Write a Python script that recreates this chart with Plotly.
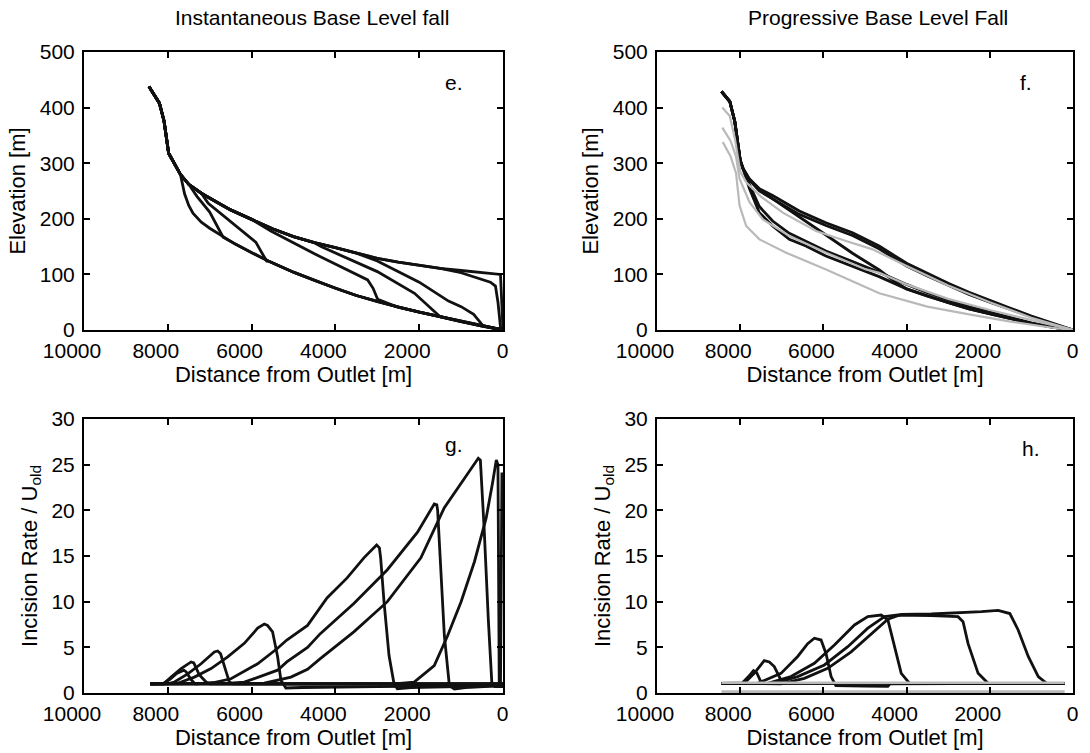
import plotly.graph_objects as go

# ---------------- data : panel e (instantaneous fall, elevation) ----------------
E_TRUNK_X = [8450, 8300, 8200, 8090, 8030, 7980, 7870, 7700]
E_TRUNK_Y = [438, 421, 408, 376, 343, 318, 303, 280]
E_UPPER_X = [7500, 7200, 6900, 6500, 6000, 5500, 5000, 4500, 4000, 3500, 3000, 2500, 2000, 1500, 1000, 500, 60]
E_UPPER_Y = [262, 246, 233, 216, 199, 182, 168, 157, 148, 138, 129, 122, 116, 111, 107, 103, 100]
E_LOWER_X = [7600, 7500, 7400, 7200, 7000, 6700, 6400, 6000, 5600, 5000, 4500, 4000, 3500, 3000, 2500, 2000, 1500, 1000, 500, 0]
E_LOWER_Y = [245, 224, 210, 194, 183, 169, 155, 139, 124, 104, 89, 75, 62, 51, 41, 32, 24, 15, 7, 0]
E_TOP_END_X = [0]
E_TOP_END_Y = [0]
# knick segments between the old (upper) and the new (lower) profile
E_K1_X = [1000, 600, 300, 180, 120, 60, 0]
E_K1_Y = [103, 94, 86, 79, 50, 5, 0]
E_K2_X = [3000, 2000, 1300, 1000, 700, 480]
E_K2_Y = [124, 86, 52, 42, 28, 8]
E_K3_X = [4343, 3000, 2112, 1800, 1520]
E_K3_Y = [150, 105, 66, 45, 26]
E_K4_X = [5540, 4500, 3230, 3100, 2990]
E_K4_Y = [178, 137, 90, 75, 55]
E_K5_X = [7035, 6370, 5900, 5750, 5640]
E_K5_Y = [228, 186, 158, 138, 124]
E_K6_X = [7300, 7000, 6850, 6680]
E_K6_Y = [240, 212, 190, 167]
E_DEPART = [1500, 3500, 4500, 6000, 7200, 7500]
E_JOIN = [0, 0, 1500, 2980, 5620, 6670]

# ---------------- data : panel f (progressive fall, elevation) ----------------
F_TRUNK_X = [8450, 8250, 8130, 8050, 8000, 7930]
F_TRUNK_Y = [429, 411, 375, 332, 305, 290]
F_UPPER_X = [7780, 7540, 7220, 6580, 5940, 5300, 4660, 4000, 3500, 3000, 2500, 2000, 1500, 1000, 500, 0]
F_UPPER_Y = [272, 254, 242, 214, 193, 175, 151, 120, 102, 84, 68, 53, 39, 25, 12, 0]
F_UPPER2_Y = [270, 250, 236, 208, 188, 170, 146, 115, 97, 80, 64, 50, 37, 24, 11, 0]
F_LOWER_X = [7780, 7540, 7220, 6820, 6420, 5940, 5300, 4660, 4000, 3500, 3000, 2500, 2000, 1500, 1000, 500, 0]
F_LOWER_Y = [255, 211, 187, 163, 151, 133, 115, 96, 74, 61, 49, 38, 29, 20, 12, 5, 0]
F_LOWER2_Y = [262, 222, 196, 174, 160, 142, 123, 104, 82, 67, 54, 42, 32, 22, 13, 5, 0]
F_DIAG_X = [7780, 7460, 6800, 6000, 5300, 4656, 4300]
F_DIAG_Y = [270, 248, 215, 174, 138, 108, 88]
F_G1_X = [8430, 8250, 8130, 8050, 8000, 7850, 7500, 6976, 6176, 5456, 4816, 4000, 3000, 2000, 1000, 0]
F_G1_Y = [400, 385, 345, 305, 285, 265, 240, 211, 178, 160, 145, 115, 80, 50, 22, 0]
F_G2_X = [8430, 8230, 8100, 8050, 8016, 7776, 7456, 6816, 5936, 4976, 4656, 4000, 3000, 2000, 1000, 0]
F_G2_Y = [364, 340, 312, 285, 272, 230, 199, 169, 139, 109, 103, 82, 56, 36, 18, 0]
F_G3_X = [8420, 8230, 8100, 8050, 8016, 7856, 7536, 6896, 5936, 4656, 3500, 2500, 1500, 500, 0]
F_G3_Y = [338, 312, 282, 250, 224, 187, 163, 139, 109, 66, 42, 28, 15, 4, 0]

# ---------------- data : panel g (instantaneous fall, incision rate) ----------------
G_A_X = [8420, 8100, 7921, 7683, 7444, 7380, 7250, 7087, 7000, 0]
G_A_Y = [1.0, 1.0, 1.74, 2.67, 3.4, 3.3, 2.0, 1.2, 1.0, 1.0]
G_B_X = [8420, 8120, 7950, 7800, 7620, 7560, 7450, 7350, 0]
G_B_Y = [1.0, 1.0, 1.5, 2.1, 2.5, 2.3, 1.5, 1.0, 1.0]
G_C_X = [8420, 8000, 7841, 7524, 7206, 6889, 6809, 6740, 6620, 6531, 6450, 0]
G_C_Y = [1.0, 1.0, 1.2, 2.1, 3.2, 4.5, 4.6, 4.3, 2.5, 1.2, 1.0, 1.0]
G_D_X = [8420, 7900, 7762, 7365, 6968, 6571, 6174, 5856, 5697, 5620, 5500, 5380, 5300, 5182, 4800, 3000, 0]
G_D_Y = [1.0, 1.0, 1.07, 1.74, 2.67, 3.96, 5.44, 7.1, 7.55, 7.4, 6.7, 4.0, 1.4, 0.55, 0.6, 0.7, 0.8]
G_E_X = [8420, 7300, 6900, 6492, 5856, 5380, 5160, 4665, 4200, 3720, 3320, 3016, 2950, 2920, 2840, 2720, 2600, 2520, 2200, 0]
G_E_Y = [1.0, 1.0, 1.15, 1.56, 3.2, 4.9, 5.8, 7.4, 10.4, 12.6, 14.8, 16.2, 15.9, 14.8, 10.0, 4.1, 1.0, 0.45, 0.6, 0.8]
G_F_X = [8420, 7000, 6600, 6174, 5380, 5160, 4665, 4360, 4000, 3560, 2760, 2040, 1640, 1580, 1560, 1480, 1400, 1280, 1160, 900, 0]
G_F_Y = [1.0, 1.0, 1.05, 1.19, 2.5, 3.4, 5.0, 6.5, 8.0, 9.8, 13.5, 17.6, 20.7, 20.6, 20.0, 13.7, 6.3, 0.8, 0.44, 0.6, 0.8]
G_G_X = [8420, 6500, 6100, 5697, 5062, 4665, 4360, 4000, 3560, 2760, 1960, 1400, 1000, 590, 540, 450, 350, 265, 200, 0]
G_G_Y = [1.0, 1.0, 1.02, 1.07, 1.74, 2.6, 3.76, 5.1, 6.7, 10.0, 14.8, 20.3, 22.9, 25.7, 25.5, 18.0, 8.0, 1.0, 0.7, 0.7]
G_H_X = [8420, 2600, 2120, 1640, 1320, 1000, 680, 400, 250, 160, 120, 90, 0]
G_H_Y = [1.0, 1.0, 1.2, 3.0, 6.3, 10.0, 14.4, 19.2, 23.0, 25.5, 25.0, 1.0, 1.0]
G_I_X = [8420, 60, 25, 0]
G_I_Y = [1.0, 1.0, 24.0, 24.0]

# ---------------- data : panel h (progressive fall, incision rate) ----------------
H_1_X = [8450, 7950, 7800, 7680, 7600, 7500, 7400, 200]
H_1_Y = [1.06, 1.1, 1.8, 2.45, 2.2, 1.2, 1.06, 1.06]
H_2_X = [8450, 7904, 7663, 7502, 7422, 7300, 7181, 7020, 6940, 200]
H_2_Y = [1.06, 1.06, 2.15, 3.07, 3.54, 3.4, 2.9, 1.4, 1.06, 1.06]
H_3_X = [8450, 7582, 7020, 6618, 6378, 6217, 6056, 5936, 5815, 5700, 5000, 4450, 4400, 200]
H_3_Y = [1.06, 1.06, 2.15, 4.0, 5.4, 6.0, 5.8, 4.3, 1.8, 0.8, 0.75, 0.72, 1.0, 1.06]
H_4_X = [8450, 7341, 6779, 6217, 5735, 5253, 4932, 4610, 4450, 4289, 4129, 3928, 200]
H_4_Y = [1.06, 1.06, 1.8, 3.25, 5.26, 7.45, 8.36, 8.54, 8.0, 5.1, 2.15, 1.06, 1.06]
H_5_X = [8450, 7181, 6618, 5976, 5414, 4932, 4530, 4209, 3406, 2763, 2643, 2522, 2281, 2040, 200]
H_5_Y = [1.06, 1.06, 1.8, 3.07, 5.07, 7.1, 8.36, 8.54, 8.47, 8.36, 7.8, 5.4, 2.15, 1.06, 1.06]
H_6_X = [8450, 7020, 6458, 5896, 5333, 4851, 4450, 4129, 3406, 2201, 1800, 1518, 1318, 1076, 835, 634, 200]
H_6_Y = [1.06, 1.0, 1.6, 2.7, 4.5, 6.5, 8.07, 8.6, 8.65, 8.9, 9.05, 8.7, 6.9, 4.0, 1.8, 1.06, 1.06]
H_G1_X = [8450, 200]
H_G1_Y = [1.12, 1.12]
H_G2_X = [8450, 200]
H_G2_Y = [0.15, 0.15]

X_TICKS = [10000, 8000, 6000, 4000, 2000, 0]
X_TICKTEXT = ["10000", "8000", "6000", "4000", "2000", "\u2007\u20070"]
ELEV_TICKS = [0, 100, 200, 300, 400, 500]
RATE_TICKS = [0, 5, 10, 15, 20, 25, 30]

TITLE_LEFT = "Instantaneous Base Level fall"
TITLE_RIGHT = "Progressive Base Level Fall"
XLABEL = "Distance from Outlet [m]"
YLABEL_TOP = "Elevation [m]"
YLABEL_BOTTOM = "Incision Rate / U<sub>old</sub>"
PANEL_LETTERS = ["e.", "f.", "g.", "h."]
LETTER_X = [1180, 1130, 1180, 1000]
LETTER_Y = [446, 446, 27.2, 26.8]

FONT = "Liberation Sans, Arial, Helvetica, sans-serif"
BLACK = "#111111"
GREY = "#b9b9b9"

fig = go.Figure()


def add(xs, ys, xa, ya, color=BLACK, width=2.8):
    fig.add_trace(go.Scatter(x=xs, y=ys, xaxis=xa, yaxis=ya, mode="lines",
                             line=dict(color=color, width=width),
                             showlegend=False, hoverinfo="skip"))


def pick(xs, ys, cond):
    px, py = [], []
    for a, b in zip(xs, ys):
        if cond(a):
            px.append(a)
            py.append(b)
    return px, py


# ---- panel e ----
ux, uy = E_UPPER_X, E_UPPER_Y
add(E_TRUNK_X + ux + E_TOP_END_X, E_TRUNK_Y + uy + E_TOP_END_Y, "x", "y")
knicks = [(E_K1_X, E_K1_Y), (E_K2_X, E_K2_Y), (E_K3_X, E_K3_Y),
          (E_K4_X, E_K4_Y), (E_K5_X, E_K5_Y), (E_K6_X, E_K6_Y)]
for (kx, ky), dep, jn in zip(knicks, E_DEPART, E_JOIN):
    a_x, a_y = pick(ux, uy, lambda v, d=dep: v >= d)
    b_x, b_y = pick(E_LOWER_X, E_LOWER_Y, lambda v, j=jn, k=kx[-1]: v < k and (v <= j))
    add(E_TRUNK_X + a_x + kx + b_x, E_TRUNK_Y + a_y + ky + b_y, "x", "y")
add(E_TRUNK_X + E_LOWER_X, E_TRUNK_Y + E_LOWER_Y, "x", "y")

# ---- panel f ----
add(F_TRUNK_X + F_UPPER_X, F_TRUNK_Y + F_UPPER_Y, "x2", "y2")
add(F_TRUNK_X + F_UPPER_X, F_TRUNK_Y + F_UPPER2_Y, "x2", "y2")
lx, ly = pick(F_LOWER_X, F_LOWER_Y, lambda v: v < F_DIAG_X[-1])
add(F_TRUNK_X + F_DIAG_X + lx, F_TRUNK_Y + F_DIAG_Y + ly, "x2", "y2")
add(F_TRUNK_X + F_LOWER_X, F_TRUNK_Y + F_LOWER_Y, "x2", "y2")
add(F_TRUNK_X + F_LOWER_X, F_TRUNK_Y + F_LOWER2_Y, "x2", "y2")
for gx, gy in [(F_G1_X, F_G1_Y), (F_G2_X, F_G2_Y), (F_G3_X, F_G3_Y)]:
    add(gx, gy, "x2", "y2", GREY, 2.2)

# ---- panel g ----
for gx, gy in [(G_A_X, G_A_Y), (G_B_X, G_B_Y), (G_C_X, G_C_Y), (G_D_X, G_D_Y),
               (G_E_X, G_E_Y), (G_F_X, G_F_Y), (G_G_X, G_G_Y), (G_H_X, G_H_Y),
               (G_I_X, G_I_Y)]:
    add(gx, gy, "x3", "y3")

# ---- panel h ----
for hx, hy in [(H_1_X, H_1_Y), (H_2_X, H_2_Y), (H_3_X, H_3_Y), (H_4_X, H_4_Y),
               (H_5_X, H_5_Y), (H_6_X, H_6_Y)]:
    add(hx, hy, "x4", "y4")
for hx, hy in [(H_G1_X, H_G1_Y), (H_G2_X, H_G2_Y)]:
    add(hx, hy, "x4", "y4", GREY, 2.6)

W, H = 1090, 753
LEFT_DOM = [84 / W, 503 / W]
RIGHT_DOM = [657 / W, 1073 / W]
TOP_DOM = [1 - 330 / H, 1 - 52 / H]
BOT_DOM = [1 - 693 / H, 1 - 419 / H]

common = dict(showline=True, linecolor="black", linewidth=2, mirror="ticks",
              ticks="inside", ticklen=6, tickwidth=2, tickcolor="black",
              showgrid=False, zeroline=False, automargin=False,
              tickfont=dict(family=FONT, size=21, color="black"))


def xaxis(dom, anchor):
    return dict(common, domain=dom, anchor=anchor, range=[10000, 0], autorange=False,
                tickvals=X_TICKS, ticktext=X_TICKTEXT,
                ticklabelstandoff=1, ticklabelshift=12,
                title=dict(text=XLABEL, font=dict(family=FONT, size=22, color="black"), standoff=3))


def yaxis(dom, anchor, rng, ticks, label):
    return dict(common, domain=dom, anchor=anchor, range=rng, autorange=False,
                tickvals=ticks, ticktext=[str(v) for v in ticks],
                ticklabelstandoff=3,
                title=dict(text=label, font=dict(family=FONT, size=22, color="black"), standoff=8))


annotations = [
    dict(text=TITLE_LEFT, x=312 / W, y=1 - 18 / H, xref="paper", yref="paper",
         showarrow=False, font=dict(family=FONT, size=21, color="black"), xanchor="center", yanchor="middle"),
    dict(text=TITLE_RIGHT, x=878 / W, y=1 - 18 / H, xref="paper", yref="paper",
         showarrow=False, font=dict(family=FONT, size=21, color="black"), xanchor="center", yanchor="middle"),
]
for lab, lxv, lyv, xr, yr in zip(PANEL_LETTERS, LETTER_X, LETTER_Y,
                                 ["x", "x2", "x3", "x4"], ["y", "y2", "y3", "y4"]):
    annotations.append(dict(text=lab, x=lxv, y=lyv, xref=xr, yref=yr, showarrow=False,
                            font=dict(family=FONT, size=21, color="black"),
                            xanchor="center", yanchor="middle"))

fig.update_layout(
    width=W, height=H, margin=dict(l=0, r=0, t=0, b=0),
    paper_bgcolor="white", plot_bgcolor="white",
    font=dict(family=FONT, color="black"),
    xaxis=xaxis(LEFT_DOM, "y"), yaxis=yaxis(TOP_DOM, "x", [0, 500], ELEV_TICKS, YLABEL_TOP),
    xaxis2=xaxis(RIGHT_DOM, "y2"), yaxis2=yaxis(TOP_DOM, "x2", [0, 500], ELEV_TICKS, YLABEL_TOP),
    xaxis3=xaxis(LEFT_DOM, "y3"), yaxis3=yaxis(BOT_DOM, "x3", [0, 30], RATE_TICKS, YLABEL_BOTTOM),
    xaxis4=xaxis(RIGHT_DOM, "y4"), yaxis4=yaxis(BOT_DOM, "x4", [0, 30], RATE_TICKS, YLABEL_BOTTOM),
    annotations=annotations,
    showlegend=False,
)

fig.write_html("out.html")
